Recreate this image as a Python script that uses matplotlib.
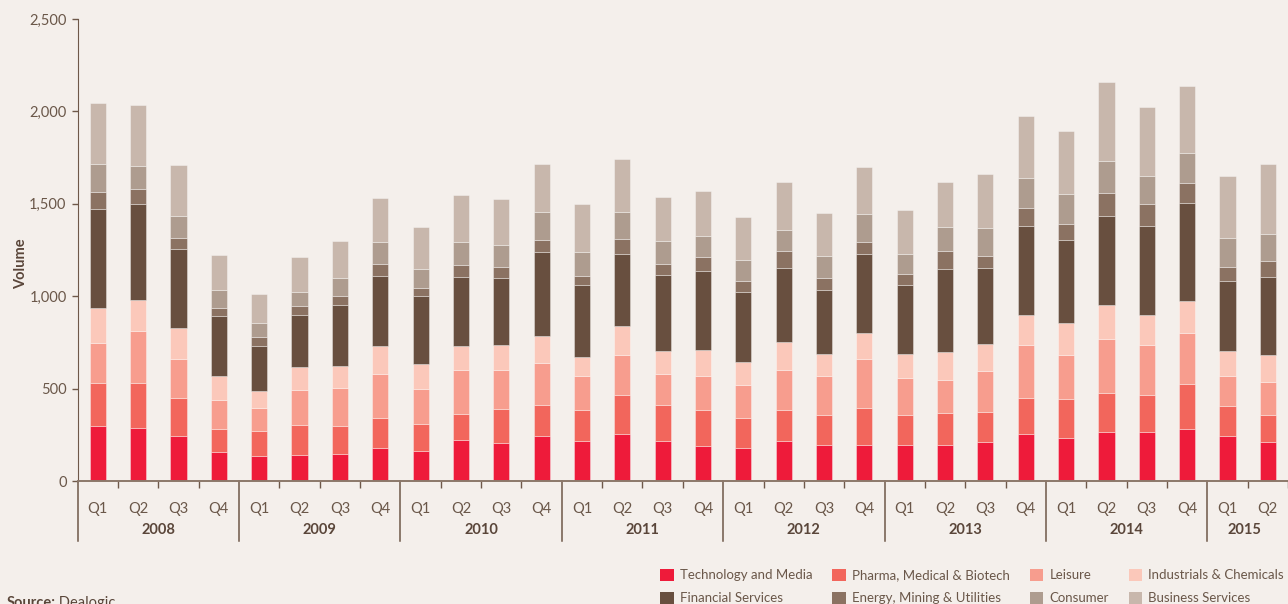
import matplotlib
matplotlib.use('Agg')
import matplotlib.pyplot as plt
import matplotlib.transforms as mtransforms
from matplotlib.patches import Patch
import numpy as np

plt.rcParams['font.family'] = ['Lato', 'DejaVu Sans']

# quarterly deal volume by sector, Q1 2008 .. Q2 2015
years = ['2008', '2009', '2010', '2011', '2012', '2013', '2014', '2015']
quarters = ['Q1', 'Q2', 'Q3', 'Q4'] * 7 + ['Q1', 'Q2']

tech = [297, 286, 243, 156, 134, 142, 145, 178, 162, 221, 205, 243, 214, 254, 216,
        189, 181, 216, 194, 194, 196, 194, 212, 252, 232, 264, 264, 281, 243, 210]
pharma = [233, 244, 206, 127, 134, 159, 152, 162, 146, 141, 184, 166, 170, 211, 193,
          195, 159, 168, 163, 202, 161, 173, 161, 197, 213, 212, 199, 242, 162, 147]
leisure = [216, 281, 211, 158, 127, 191, 209, 241, 190, 238, 210, 229, 184, 217, 172,
           187, 179, 215, 214, 264, 202, 179, 224, 289, 235, 292, 273, 280, 163, 178]
industrials = [190, 170, 168, 127, 93, 125, 114, 149, 137, 130, 139, 147, 105, 155, 120,
               140, 125, 151, 118, 139, 128, 154, 142, 160, 173, 183, 164, 173, 137, 149]
financial = [536, 520, 430, 325, 242, 281, 332, 380, 366, 374, 363, 456, 388, 392, 414,
             426, 379, 403, 347, 430, 374, 447, 414, 482, 451, 483, 480, 529, 377, 422]
energy = [93, 80, 59, 43, 47, 49, 49, 65, 44, 63, 56, 64, 49, 83, 60,
          74, 59, 92, 63, 65, 59, 98, 65, 98, 87, 125, 118, 108, 76, 87]
consumer = [151, 126, 118, 98, 78, 74, 98, 119, 103, 127, 119, 151, 130, 144, 124,
            115, 114, 114, 119, 153, 109, 130, 150, 162, 163, 175, 153, 163, 157, 142]
business = [329, 327, 274, 191, 157, 190, 198, 240, 229, 253, 249, 257, 261, 286, 238,
            246, 235, 260, 233, 253, 238, 242, 292, 335, 341, 423, 372, 361, 334, 383]

sectors = ['Technology and Media', 'Pharma, Medical & Biotech', 'Leisure',
           'Industrials & Chemicals', 'Financial Services', 'Energy, Mining & Utilities',
           'Consumer', 'Business Services']
series = [tech, pharma, leisure, industrials, financial, energy, consumer, business]
colors = ['#EE1B3A', '#F2665C', '#F79D8E', '#FBC8BA',
          '#684F3F', '#8B7262', '#AE9C8F', '#C8B7AC']

BG = '#F4EFEB'
AXIS = '#6E5849'
TEXT = '#6A5749'
DARK = '#5A463A'

fig = plt.figure(figsize=(12.88, 6.04), dpi=100, facecolor=BG)
ax = fig.add_axes([0.0603, 0.2036, 0.9397, 0.7649], facecolor=BG)

x = np.arange(len(quarters))
bottom = np.zeros(len(quarters))
for vals, col in zip(series, colors):
    ax.bar(x, vals, width=0.4, bottom=bottom, color=col,
           edgecolor=(1, 1, 1, 0.35), linewidth=0.7)
    bottom += np.array(vals)

xmax = 29.34
ax.set_xlim(-0.5, xmax)
ax.set_ylim(0, 2500)

# y axis
ax.set_yticks(range(0, 2501, 500))
ax.set_yticklabels([f'{v:,}' for v in range(0, 2501, 500)])
ax.tick_params(axis='y', length=4, width=1, color=AXIS, labelcolor=TEXT,
               labelsize=10.5, pad=4)
ax.set_ylabel('Volume', fontsize=10.5, fontweight='bold', color=DARK)
ax.yaxis.set_label_coords(-0.041, 0.47)

# x axis: quarter labels, small ticks between quarters
ax.set_xticks(x)
ax.set_xticklabels(quarters)
ax.tick_params(axis='x', which='major', length=0, labelcolor=TEXT,
               labelsize=10.5, pad=15)
minor = [i + 0.5 for i in range(len(quarters)) if (i + 1) % 4 != 0]
ax.set_xticks(minor, minor=True)
ax.tick_params(axis='x', which='minor', length=5, width=1, color=AXIS)

for s in ['top', 'right']:
    ax.spines[s].set_visible(False)
ax.spines['left'].set_color(AXIS)
ax.spines['bottom'].set_color('#8C786A')
ax.spines['bottom'].set_linewidth(1.4)

# year separators and labels below the axis
trans = mtransforms.blended_transform_factory(ax.transData, ax.transAxes)
for k, yr in enumerate(years):
    start = 4 * k - 0.5
    ax.plot([start, start], [0, -0.13], color=AXIS, lw=1.1,
            transform=trans, clip_on=False)
    end = min(start + 4, xmax)
    ax.text((start + end) / 2, -0.106, yr, transform=trans, ha='center',
            va='center', fontsize=10.5, fontweight='bold', color=DARK)

# legend, filled column by column
order = [0, 4, 1, 5, 2, 6, 3, 7]
handles = [Patch(facecolor=colors[i], edgecolor='none') for i in order]
fig.legend(handles, [sectors[i] for i in order], ncol=4, loc='upper left',
           bbox_to_anchor=(0.5124, 0.0585), frameon=False, fontsize=9.5,
           handlelength=1.05, handleheight=1.05, handletextpad=0.45,
           columnspacing=1.5, labelspacing=0.8, borderpad=0, borderaxespad=0,
           labelcolor=TEXT)

src = fig.text(0.005, 0.0135, 'Source:', fontsize=10.5, fontweight='bold',
               color=DARK, va='top')
ax.annotate(' Dealogic', xy=(1, 1), xycoords=src, va='top', ha='left',
            fontsize=10.5, color=DARK, annotation_clip=False)

fig.savefig('out.png', dpi=100, facecolor=BG)
